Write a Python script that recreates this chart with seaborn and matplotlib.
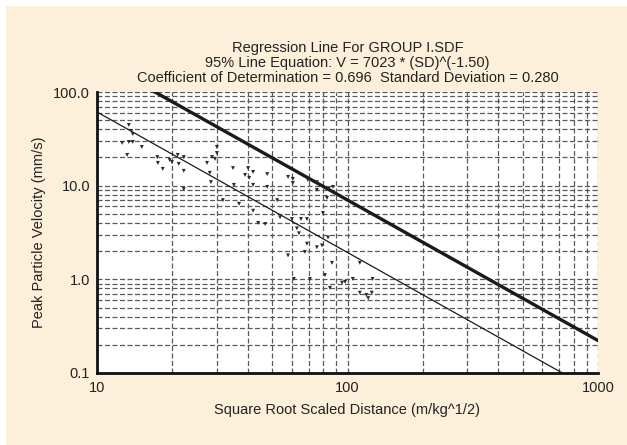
import numpy as np
import pandas as pd
import seaborn as sns
import matplotlib.pyplot as plt
from matplotlib.patches import Rectangle
from matplotlib.ticker import FixedLocator, LogLocator, NullFormatter

# Scatter data (scaled distance, PPV)
distance = [13.4, 13.7, 13.9, 12.6, 13.4, 13.9, 15.1, 13.2, 17.4, 17.5,
            18.3, 19.5, 19.9, 21.0, 21.2, 22.2, 22.2, 22.2, 27.5, 28.8,
            29.6, 30.1, 30.1, 28.2, 28.5, 31.8, 34.9, 35.2, 36.9, 39.0,
            40.1, 40.5, 42.0, 42.0, 42.0, 44.0, 46.9, 47.8, 47.8, 52.4,
            53.8, 57.9, 60.5, 60.5, 57.9, 61.1, 60.0, 65.2, 68.9, 62.8,
            64.0, 68.9, 67.6, 69.5, 75.5, 75.5, 82.8, 84.3, 87.5, 79.8,
            83.6, 75.5, 79.1, 86.7, 81.3, 85.1, 95.1, 97.8, 105.0, 112.0,
            112.0, 119.0, 121.0, 125.0, 126.0, 70.8]
velocity = [44.5, 38.4, 35.6, 28.6, 29.3, 29.3, 25.9, 21.3, 20.2, 17.5,
            15.1, 18.8, 17.9, 21.3, 17.1, 20.2, 14.4, 9.2, 17.5, 20.2,
            19.3, 25.9, 22.3, 13.7, 10.9, 7.0, 15.4, 10.2, 6.4, 13.0,
            15.4, 12.1, 14.0, 10.2, 5.4, 4.0, 3.9, 13.3, 9.7, 7.0,
            4.6, 12.4, 11.8, 10.7, 1.8, 1.01, 4.4, 4.4, 4.4, 3.5,
            3.1, 2.4, 1.96, 11.5, 10.9, 9.0, 7.4, 9.4, 9.7, 5.1,
            2.8, 2.2, 2.3, 1.5, 1.11, 0.81, 0.92, 0.94, 1.01, 1.5,
            0.72, 0.68, 0.63, 0.72, 1.01, 1.01]

# Regression from the title: V = K * SD^b, 95% line is mean + 2*sd (log10)
k95 = 7023
exponent = -1.50
std_dev = 0.280
k_mean = k95 / 10 ** (2 * std_dev)
sd_range = [10, 1000]

df = pd.DataFrame({"sd": distance, "ppv": velocity})
lines = pd.DataFrame({
    "sd": sd_range * 2,
    "ppv": [k95 * s ** exponent for s in sd_range] + [k_mean * s ** exponent for s in sd_range],
    "line": ["95%"] * 2 + ["mean"] * 2,
})

sns.set_style("white")
plt.rcParams["font.family"] = ["Liberation Sans", "DejaVu Sans"]

cream = "#fcf0da"
fig = plt.figure(figsize=(6.27, 4.45), dpi=100, facecolor="white")
fig.patches.append(Rectangle((6 / 627, 0), 1, 1 - 6 / 445, transform=fig.transFigure,
                             facecolor=cream, edgecolor="none", zorder=-10))
ax = fig.add_axes([97 / 627, 1 - 373 / 445, 501 / 627, 281 / 445])
ax.set_facecolor("white")

ax.set_xscale("log")
ax.set_yscale("log")
ax.set_xlim(10, 1000)
ax.set_ylim(0.1, 100)

grid_kw = dict(color="#5a5a5a", linestyle=(0, (4, 2)), linewidth=0.9)
ax.xaxis.set_minor_locator(LogLocator(base=10, subs=np.arange(2, 10)))
ax.yaxis.set_minor_locator(LogLocator(base=10, subs=np.arange(2, 10)))
ax.xaxis.set_minor_formatter(NullFormatter())
ax.yaxis.set_minor_formatter(NullFormatter())
ax.grid(True, which="both", **grid_kw)
ax.set_axisbelow(True)

sns.lineplot(data=lines[lines["line"] == "95%"], x="sd", y="ppv", color="#1a1a1a",
             linewidth=2.4, ax=ax)
sns.lineplot(data=lines[lines["line"] == "mean"], x="sd", y="ppv", color="#1a1a1a",
             linewidth=0.9, ax=ax)
sns.scatterplot(data=df, x="sd", y="ppv", marker="v", s=8, color="#2a2a2a",
                edgecolor="none", ax=ax, zorder=5)

ax.xaxis.set_major_locator(FixedLocator([10, 100, 1000]))
ax.set_xticklabels(["10", "100", "1000"])
ax.yaxis.set_major_locator(FixedLocator([0.1, 1, 10, 100]))
ax.set_yticklabels(["0.1", "1.0", "10.0", "100.0"])

for side in ["top", "right"]:
    ax.spines[side].set_visible(False)
for side in ["left", "bottom"]:
    ax.spines[side].set_linewidth(2)
    ax.spines[side].set_color("#111111")

ax.tick_params(axis="x", which="major", direction="inout", length=7, width=1.2,
               labelsize=10.5, labelcolor="#222222", pad=2)
ax.tick_params(axis="x", which="minor", direction="in", length=5, width=1)
ax.tick_params(axis="y", which="major", direction="out", length=4, width=1.2,
               labelsize=10.5, labelcolor="#222222", pad=1)
ax.tick_params(axis="y", which="minor", direction="out", length=2.5, width=0.8)

ax.set_xlabel("Square Root Scaled Distance (m/kg^1/2)", fontsize=10.5, color="#222222",
              labelpad=6)
ax.set_ylabel("Peak Particle Velocity (mm/s)", fontsize=10.5, color="#222222", labelpad=5)
ax.set_title("Regression Line For GROUP I.SDF\n"
             "95% Line Equation: V = 7023 * (SD)^(-1.50)\n"
             "Coefficient of Determination = 0.696  Standard Deviation = 0.280",
             fontsize=10.5, color="#222222", linespacing=1.12, pad=7)

fig.savefig("out.png", dpi=100, facecolor=fig.get_facecolor())
